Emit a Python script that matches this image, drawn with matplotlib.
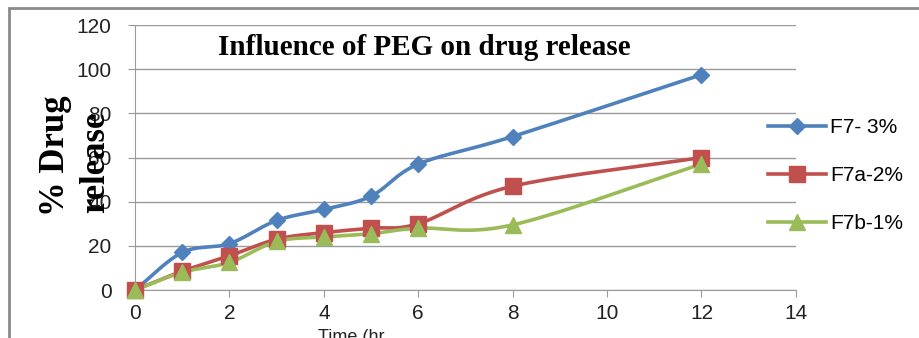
import numpy as np
import matplotlib
matplotlib.use("Agg")
import matplotlib.pyplot as plt
from matplotlib.lines import Line2D
from matplotlib.patches import Rectangle

# data
time_hr = [0, 1, 2, 3, 4, 5, 6, 8, 12]
f7_3 = [0, 17, 21, 31.5, 36.5, 42.5, 57, 69.5, 97.5]
f7a_2 = [0, 8.5, 15.5, 23, 26, 28, 30, 47, 60]
f7b_1 = [0, 8, 12.5, 22, 24, 25.5, 28, 29.5, 57]
labels = ["F7- 3%", "F7a-2%", "F7b-1%"]
colors = ["#4F81BD", "#C0504D", "#9BBB59"]
markers = ["D", "s", "^"]
msizes = [8, 11, 12]


def smooth(x, y, n=20):
    # Catmull-Rom style curve through the points (like Excel's smoothed line)
    x = np.asarray(x, float)
    y = np.asarray(y, float)
    px = np.concatenate([[2 * x[0] - x[1]], x, [2 * x[-1] - x[-2]]])
    py = np.concatenate([[2 * y[0] - y[1]], y, [2 * y[-1] - y[-2]]])
    xs, ys = [], []
    t = np.linspace(0, 1, n)
    for i in range(1, len(px) - 2):
        p0, p1, p2, p3 = [np.array([px[j], py[j]]) for j in range(i - 1, i + 3)]
        for tt in t:
            pt = 0.5 * ((2 * p1) + (-p0 + p2) * tt
                        + (2 * p0 - 5 * p1 + 4 * p2 - p3) * tt ** 2
                        + (-p0 + 3 * p1 - 3 * p2 + p3) * tt ** 3)
            xs.append(pt[0])
            ys.append(pt[1])
    return xs, ys


fig = plt.figure(figsize=(9.19, 3.38), dpi=100)
ax = fig.add_axes([0.147, 0.142, 0.719, 0.784])

for ys, c, m, ms in zip([f7_3, f7a_2, f7b_1], colors, markers, msizes):
    sx, sy = smooth(time_hr, ys)
    ax.plot(sx, sy, color=c, lw=2.6, zorder=3, clip_on=False)
    ax.plot(time_hr, ys, linestyle="none", marker=m, ms=ms, color=c, zorder=4, clip_on=False)

ax.set_xlim(0, 14)
ax.set_ylim(0, 120)
ax.set_xticks(range(0, 15, 2))
ax.set_yticks(range(0, 121, 20))
ax.grid(axis="y", color="#9a9a9a", lw=1)
ax.set_axisbelow(True)
for s in ["top", "right"]:
    ax.spines[s].set_visible(False)
for s in ["left", "bottom"]:
    ax.spines[s].set_color("#9a9a9a")
ax.tick_params(colors="#9a9a9a", labelcolor="#222222", labelsize=15, length=5)
for lab in ax.get_xticklabels() + ax.get_yticklabels():
    lab.set_family("Liberation Sans")
ax.tick_params(axis="x", pad=5)
ax.tick_params(axis="y", pad=12)

ax.text(0.437, 0.917, "Influence of PEG on drug release", transform=ax.transAxes,
        ha="center", va="center", family="Liberation Serif", fontweight="bold", fontsize=21)

fig.text(0.060, 0.54, "% Drug", rotation=90, ha="center", va="center",
         family="Liberation Serif", fontweight="bold", fontsize=25)
fig.text(0.104, 0.52, "release", rotation=90, ha="center", va="center",
         family="Liberation Serif", fontweight="bold", fontsize=25)
fig.text(0.382, 0.0, "Time (hr", ha="center", va="center",
         family="Liberation Sans", fontsize=13, color="#222222")

handles = [Line2D([0], [0], color=c, lw=2.6, marker=m, ms=ms)
           for c, m, ms in zip(colors, markers, msizes)]
fig.legend(handles, labels, loc="center left", bbox_to_anchor=(0.815, 0.48),
           frameon=False, prop={"family": "Liberation Sans", "size": 15},
           handlelength=2.8, labelspacing=1.4, handletextpad=0.2)

fig.patches.append(Rectangle((0.010, -0.1), 1.1, 1.076, transform=fig.transFigure,
                             fill=False, edgecolor="#8a8a8a", lw=2))

fig.savefig("out.png", dpi=100)
